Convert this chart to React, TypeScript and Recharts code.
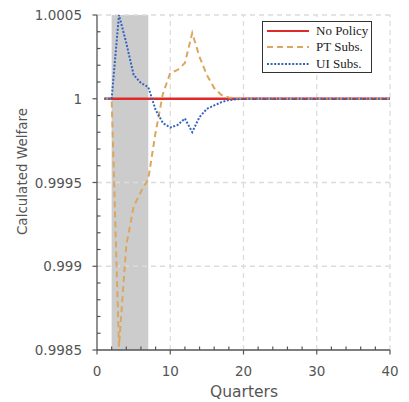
import React from "react";
import {
  LineChart,
  Line,
  XAxis,
  YAxis,
  ReferenceArea,
  ReferenceLine,
  Legend,
} from "recharts";

// quarters after the shock
const QUARTERS = [
  1, 2, 3, 4, 5, 6, 7, 8, 9, 10, 11, 12, 13, 14, 15, 16, 17, 18, 19, 20, 21,
  22, 23, 24, 25, 26, 27, 28, 29, 30, 31, 32, 33, 34, 35, 36, 37, 38, 39, 40,
];

const NO_POLICY = [
  1, 1, 1, 1, 1, 1, 1, 1, 1, 1, 1, 1, 1, 1, 1, 1, 1, 1, 1, 1, 1, 1, 1, 1, 1, 1,
  1, 1, 1, 1, 1, 1, 1, 1, 1, 1, 1, 1, 1, 1,
];

const PT_SUBS = [
  1, 1, 0.99852, 0.999125, 0.999356, 0.999445, 0.999521, 0.9998, 1.00003,
  1.000154, 1.000172, 1.000213, 1.000393, 1.00025, 1.000142, 1.000064,
  1.000022, 1.000008, 1.000003, 1.000001, 1, 1, 1, 1, 1, 1, 1, 1, 1, 1, 1, 1,
  1, 1, 1, 1, 1, 1, 1, 1,
];

const UI_SUBS = [
  1, 1, 1.0005, 1.000333, 1.000142, 1.000094, 1.00007, 0.999933, 0.999855,
  0.999828, 0.999843, 0.999882, 0.999801, 0.999891, 0.99994, 0.99996,
  0.99998, 0.999992, 0.999997, 0.999999, 1, 1, 1, 1, 1, 1, 1, 1, 1, 1, 1, 1,
  1, 1, 1, 1, 1, 1, 1, 1,
];

const MAJOR_X = [0, 10, 20, 30, 40];
const MINOR_X = [2, 4, 6, 8, 12, 14, 16, 18, 22, 24, 26, 28, 32, 34, 36, 38];
const MAJOR_Y = [0.9985, 0.999, 0.9995, 1, 1.0005];
const MINOR_Y = [
  0.9986, 0.9987, 0.9988, 0.9989, 0.9991, 0.9992, 0.9993, 0.9994, 0.9996,
  0.9997, 0.9998, 0.9999, 1.0001, 1.0002, 1.0003, 1.0004,
];
const GRID_X = [10, 20, 30, 40];
const GRID_Y = [0.999, 0.9995, 1.0005];

// shaded policy window
const SHADE = [2, 7];

const SERIES = [
  { key: "noPolicy", name: "No Policy", values: NO_POLICY, color: "#dd2b2b", dash: undefined, width: 2.4 },
  { key: "pt", name: "PT Subs.", values: PT_SUBS, color: "#dba75e", dash: "6 4", width: 2 },
  { key: "ui", name: "UI Subs.", values: UI_SUBS, color: "#3564c0", dash: "2 1.6", width: 2 },
];

const data = QUARTERS.map((q, i) => ({
  q,
  noPolicy: NO_POLICY[i],
  pt: PT_SUBS[i],
  ui: UI_SUBS[i],
}));

const AXIS = "#555555";
const FONT = "'DejaVu Sans', sans-serif";

const XTick = (props: any) => {
  const { x, y, payload } = props;
  const major = MAJOR_X.includes(payload.value);
  return (
    <g>
      <line x1={x} x2={x} y1={y} y2={major ? y + 4.5 : y - 3.5} stroke={AXIS} strokeWidth={1.2} />
      {major && (
        <text x={x} y={y + 21} textAnchor="middle" dominantBaseline="central" fill={AXIS} fontSize={13.5} fontFamily={FONT}>
          {payload.value}
        </text>
      )}
    </g>
  );
};

const YTick = (props: any) => {
  const { x, y, payload } = props;
  const major = MAJOR_Y.includes(payload.value);
  return (
    <g>
      <line x1={x} x2={major ? x - 4.5 : x + 3.5} y1={y} y2={y} stroke={AXIS} strokeWidth={1.2} />
      {major && (
        <text x={x - 15} y={y} textAnchor="end" dominantBaseline="central" fill={AXIS} fontSize={13.5} fontFamily={FONT}>
          {String(payload.value)}
        </text>
      )}
    </g>
  );
};

const LegendBox = () => (
  <div
    style={{
      width: 108,
      height: 49,
      background: "#fff",
      border: "1.5px solid #333",
      fontFamily: "'Liberation Serif', serif",
      fontSize: 13,
      color: "#222",
      padding: "1px 0 0 0",
      boxSizing: "content-box",
    }}
  >
    {SERIES.map((s) => (
      <div key={s.key} style={{ display: "flex", alignItems: "center", height: 16.3 }}>
        <svg width={50} height={8} style={{ marginLeft: 3 }}>
          <line x1={1} x2={43} y1={4} y2={4} stroke={s.color} strokeWidth={2} strokeDasharray={s.dash} />
        </svg>
        <span style={{ lineHeight: "16px" }}>{s.name}</span>
      </div>
    ))}
  </div>
);

export default function App() {
  return (
    <div style={{ position: "absolute", left: 0, top: 0, background: "#fff" }}>
      <LineChart width={409} height={402} data={data} margin={{ top: 15, right: 19, bottom: 0, left: 0 }}>
        <ReferenceArea x1={SHADE[0]} x2={SHADE[1]} fill="#cccccc" fillOpacity={1} stroke="none" />
        {GRID_X.map((v) => (
          <ReferenceLine key={"gx" + v} x={v} stroke="#dcdcdc" strokeWidth={1.3} strokeDasharray="5 4" />
        ))}
        {GRID_Y.map((v) => (
          <ReferenceLine key={"gy" + v} y={v} stroke="#dcdcdc" strokeWidth={1.3} strokeDasharray="5 4" />
        ))}
        <XAxis
          dataKey="q"
          type="number"
          domain={[0, 40]}
          ticks={[...MAJOR_X, ...MINOR_X]}
          interval={0}
          height={52}
          stroke={AXIS}
          strokeWidth={1.3}
          tickLine={false}
          tickSize={0}
          tickMargin={0}
          tick={<XTick />}
          label={{
            content: () => (
              <text x={244} y={391.5} textAnchor="middle" dominantBaseline="central" fill={AXIS} fontSize={15.5} fontFamily={FONT}>
                Quarters
              </text>
            ),
          }}
        />
        <YAxis
          type="number"
          domain={[0.9985, 1.0005]}
          allowDataOverflow
          ticks={[...MAJOR_Y, ...MINOR_Y]}
          interval={0}
          width={97}
          stroke={AXIS}
          strokeWidth={1.3}
          tickLine={false}
          tickSize={0}
          tickMargin={0}
          tick={<YTick />}
          label={{
            content: () => (
              <text
                x={22}
                y={171.5}
                transform="rotate(-90 22 171.5)"
                textAnchor="middle"
                dominantBaseline="central"
                fill={AXIS}
                fontSize={13.5}
                fontFamily={FONT}
              >
                Calculated Welfare
              </text>
            ),
          }}
        />
        {SERIES.map((s) => (
          <Line
            key={s.key}
            dataKey={s.key}
            name={s.name}
            type="linear"
            stroke={s.color}
            strokeWidth={s.width}
            strokeDasharray={s.dash}
            dot={false}
            activeDot={false}
            isAnimationActive={false}
          />
        ))}
        <Legend
          layout="vertical"
          align="center"
          verticalAlign="middle"
          wrapperStyle={{ left: 262, top: 21, width: "auto" }}
          content={() => <LegendBox />}
        />
      </LineChart>
    </div>
  );
}
